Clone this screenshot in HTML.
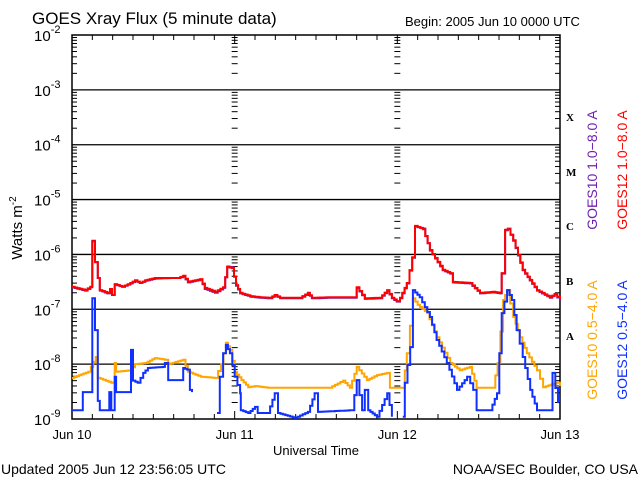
<!DOCTYPE html>
<html><head><meta charset="utf-8">
<style>
body{margin:0;background:#fff;}
svg{display:block;font-family:"Liberation Sans","DejaVu Sans",sans-serif;}
</style></head>
<body>
<svg id="chart" width="640" height="480" viewBox="0 0 640 480" xmlns="http://www.w3.org/2000/svg">
<rect x="0" y="0" width="640" height="480" fill="#fff"/>
<text x="32" y="24" font-size="17" fill="#000">GOES Xray Flux (5 minute data)</text>
<text x="405" y="26" font-size="13" fill="#000">Begin:  2005 Jun 10 0000 UTC</text>
<g id="axes"></g>
<g id="series"></g>
<text transform="translate(22,228) rotate(-90)" text-anchor="middle" font-size="15" fill="#000">Watts m<tspan font-size="10" dy="-6">-2</tspan></text>
<text x="316" y="455" text-anchor="middle" font-size="13" fill="#000">Universal Time</text>
<text x="1" y="474" font-size="14" fill="#000">Updated 2005 Jun 12 23:56:05 UTC</text>
<text x="638" y="474" text-anchor="end" font-size="14" fill="#000">NOAA/SEC Boulder, CO USA</text>
<g font-family="Liberation Serif, serif" font-weight="bold" font-size="11" fill="#000">
<text x="566" y="121">X</text>
<text x="566" y="176">M</text>
<text x="566" y="230">C</text>
<text x="566" y="285">B</text>
<text x="566" y="340">A</text>
</g>
<g font-size="14">
<text transform="translate(597,170) rotate(-90)" text-anchor="middle" fill="#7020b0">GOES10 1.0−8.0 A</text>
<text transform="translate(627,170) rotate(-90)" text-anchor="middle" fill="#ff0000">GOES12 1.0−8.0 A</text>
<text transform="translate(597,340) rotate(-90)" text-anchor="middle" fill="#ffa500">GOES10 0.5−4.0 A</text>
<text transform="translate(627,340) rotate(-90)" text-anchor="middle" fill="#1030ff">GOES12 0.5−4.0 A</text>
</g>
</svg>
<script>
// data: hours since Jun 10 00:00 UTC, log10 flux (W/m^2)
const dayLabels = ["Jun 10","Jun 11","Jun 12","Jun 13"];
const decadeExps = [-2,-3,-4,-5,-6,-7,-8,-9];
const longHours = [0,1.9,2.7,3.0,3.4,3.8,4.1,5.2,5.6,5.9,6.3,7.4,8.6,9.3,10.0,10.8,12.2,14.5,15.6,16.4,17.1,18.9,19.6,21.1,22.3,22.9,23.6,24.2,24.8,26.3,27.7,29.2,29.9,30.7,33.6,34.8,35.4,38.1,41.7,42.0,43.2,45.4,46.5,47.2,47.9,48.4,49.4,50.2,50.6,51.8,52.8,54.7,55.8,56.2,58.7,60.2,62.1,63.1,63.4,63.9,64.3,65.1,66.5,68.6,70.5,71.2,72.0];
const goes12Long = [-6.59,-6.65,-6.59,-5.76,-6.14,-6.43,-6.65,-6.70,-6.63,-6.74,-6.54,-6.59,-6.52,-6.47,-6.52,-6.47,-6.43,-6.43,-6.43,-6.39,-6.50,-6.45,-6.61,-6.68,-6.60,-6.23,-6.25,-6.56,-6.70,-6.76,-6.78,-6.79,-6.74,-6.79,-6.79,-6.70,-6.79,-6.78,-6.78,-6.60,-6.80,-6.79,-6.65,-6.79,-6.85,-6.79,-6.52,-6.05,-5.48,-5.54,-5.92,-6.28,-6.34,-6.50,-6.52,-6.70,-6.68,-6.70,-6.34,-5.55,-5.54,-5.74,-6.28,-6.65,-6.78,-6.72,-6.83];
const goes10Long = [-6.60,-6.66,-6.60,-5.75,-6.14,-6.43,-6.66,-6.71,-6.64,-6.74,-6.55,-6.59,-6.53,-6.48,-6.52,-6.48,-6.44,-6.43,-6.43,-6.40,-6.51,-6.46,-6.63,-6.70,-6.61,-6.22,-6.24,-6.57,-6.71,-6.77,-6.79,-6.80,-6.75,-6.80,-6.80,-6.71,-6.80,-6.79,-6.79,-6.61,-6.81,-6.80,-6.66,-6.80,-6.86,-6.80,-6.53,-6.06,-5.49,-5.53,-5.93,-6.29,-6.35,-6.51,-6.53,-6.71,-6.69,-6.71,-6.35,-5.56,-5.53,-5.75,-6.29,-6.66,-6.79,-6.73,-6.84];
const goes10ShortHours = [0,2.4,3.5,3.8,5.8,6.3,6.5,8.7,9.3,10.8,12.2,13.7,14.2,16.4,17.1,19.0,21.1,22.0,22.7,23.3,24.0,25.0,26.0,27.0,28.9,36.3,38.0,40.0,41.0,42.0,43.5,45.0,46.5,46.9,48.8,49.4,50.3,51.0,52.4,53.8,55.8,57.2,58.7,59.7,62.1,62.8,63.6,64.2,65.1,66.1,67.1,68.6,69.5,71.5,72.0];
const goes10Short = [-8.25,-8.14,-7.87,-8.25,-8.34,-7.98,-8.14,-8.11,-8.00,-7.98,-7.89,-7.92,-8.00,-7.92,-8.14,-8.23,-8.25,-8.00,-7.61,-7.74,-8.14,-8.29,-8.42,-8.40,-8.43,-8.43,-8.43,-8.30,-8.43,-8.05,-8.29,-8.20,-8.16,-8.43,-8.43,-7.80,-6.80,-6.92,-7.07,-7.51,-7.98,-8.11,-8.05,-8.43,-8.43,-7.98,-6.83,-6.65,-7.14,-7.51,-7.80,-8.11,-8.42,-8.34,-8.40];
const goes12ShortHours = [0,1.5,1.6,2.7,3.0,3.4,3.8,4.1,5.3,5.5,5.8,6.3,6.5,8.3,8.7,9.0,9.7,10.5,11.2,13.4,13.7,14.2,16.1,16.4,17.0,17.4,17.7,19.5,21.4,21.8,22.3,22.7,23.3,24.0,24.8,24.9,26.0,27.0,27.4,28.9,29.9,30.4,32.9,34.8,35.8,36.3,41.3,42.0,42.8,43.2,43.7,45.0,46.5,47.2,48.0,48.8,49.1,49.9,50.3,51.3,52.8,53.8,55.3,56.8,58.3,59.2,59.7,61.7,62.7,63.4,64.2,64.9,65.6,66.5,67.6,68.6,70.5,70.9,71.7];
const goes12Short = [-8.84,-8.84,-8.51,-8.51,-6.80,-7.38,-8.67,-8.84,-8.84,-8.51,-8.84,-8.23,-8.51,-8.51,-7.74,-8.30,-8.34,-8.16,-8.07,-8.05,-7.98,-8.29,-8.29,-8.07,-8.10,-8.47,-8.51,null,-8.89,-8.23,-7.80,-7.65,-7.80,-8.23,-8.53,-8.84,-8.89,-8.78,-8.89,-8.89,-8.53,-8.89,-8.98,-8.87,-8.53,-8.87,-8.84,-8.29,-8.84,-8.47,-8.84,-8.96,-8.53,-8.96,null,-8.96,-8.34,-7.69,-6.65,-6.78,-7.14,-7.56,-7.98,-8.47,-8.23,-8.47,-8.84,-8.84,-8.53,-7.07,-6.65,-6.83,-7.38,-7.87,-8.47,-8.84,-8.84,-8.16,-8.71];

const NS="http://www.w3.org/2000/svg";
const L=72,R=560,T=35,B=419;
function xs(h){return L+(R-L)*h/72;}
function ys(lg){return T+(B-T)*(-2-lg)/7;}
const axes=document.getElementById('axes');
const ser=document.getElementById('series');
function mk(tag,attrs,parent){const e=document.createElementNS(NS,tag);for(const k in attrs)e.setAttribute(k,attrs[k]);parent.appendChild(e);return e;}

const frame=mk('rect',{x:L,y:T,width:R-L,height:B-T,fill:'none',stroke:'#000','stroke-width':1.5},axes);


decadeExps.forEach(function(e){
  const y=ys(e);
  if(e<-2&&e>-9){
    const g=mk('line',{x1:L,x2:R,y1:y,y2:y,stroke:'#000','stroke-width':1.3},axes);
    
    
  }
  const t=mk('text',{x:34,y:y+6,'font-size':15,fill:'#000'},axes);
  
  
  t.textContent='10';
  const s=mk('tspan',{'font-size':11,dy:-8},t);
  s.textContent=String(e);
  if(e>-9){
    for(let m=2;m<=9;m++){
      const yy=ys(e-1+Math.log10(m));
      [[L,L+5],[R-5,R]].forEach(function(p){mk('line',{x1:p[0],x2:p[1],y1:yy,y2:yy,stroke:'#000','stroke-width':1},axes);});
      [1,2].forEach(function(d){const xc=xs(d*24);mk('line',{x1:xc-3,x2:xc+3,y1:yy,y2:yy,stroke:'#000','stroke-width':1},axes);});
    }
  }
});
for(let h=0;h<=72;h+=3){
  const x=xs(h);const len=(h%24===0)?8:5;
  mk('line',{x1:x,x2:x,y1:B,y2:B-len,stroke:'#000','stroke-width':1},axes);
  mk('line',{x1:x,x2:x,y1:T,y2:T+len,stroke:'#000','stroke-width':1},axes);
}
dayLabels.forEach(function(lbl,i){
  const t=mk('text',{x:xs(i*24),y:439,'text-anchor':'middle','font-size':13,fill:'#000'},axes);
  
  
  t.textContent=lbl;
});
// stepped series, approximating the 5-minute staircase look
function draw(hours,vals,color,name){
  let segs=[],cur=[];
  for(let i=0;i<hours.length;i++){
    if(vals[i]===null){if(cur.length)segs.push(cur);cur=[];continue;}
    const x=xs(hours[i]),y=ys(vals[i]);
    if(cur.length){
      const prev=cur[cur.length-1];
      const n=Math.max(1,Math.round(Math.abs(x-prev[0])/2.5));
      for(let k=1;k<n;k++){
        const xx=prev[0]+(x-prev[0])*k/n, yy=prev[1]+(y-prev[1])*k/n;
        cur.push([xx,cur[cur.length-1][1]]);cur.push([xx,yy]);
      }
      cur.push([x,cur[cur.length-1][1]]);
    }
    cur.push([x,y]);
  }
  if(cur.length)segs.push(cur);
  segs.forEach(function(s){
    const pts=s.map(function(p){return p[0].toFixed(1)+','+p[1].toFixed(1);}).join(' ');
    const p=mk('polyline',{points:pts,fill:'none',stroke:color,'stroke-width':2,'stroke-linejoin':'miter'},ser);
    
    
  });
}
draw(goes10ShortHours,goes10Short,'#ffa500','goes10-short-line');
draw(goes12ShortHours,goes12Short,'#1030ff','goes12-short-line');
draw(longHours,goes10Long,'#7020b0','goes10-long-line');
draw(longHours,goes12Long,'#ff0000','goes12-long-line');
</script>
</body></html>
